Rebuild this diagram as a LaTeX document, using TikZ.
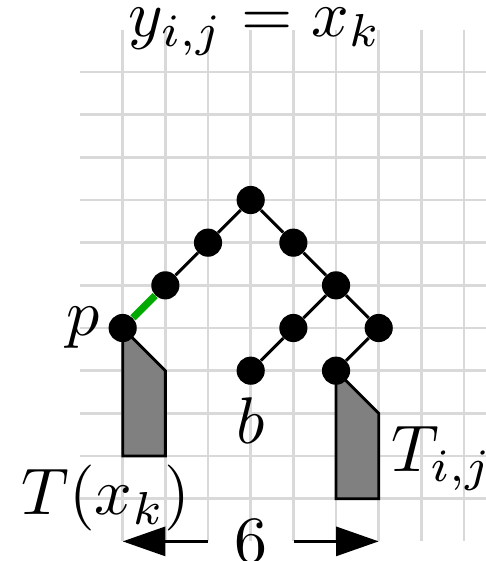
\documentclass[tikz,border=0pt]{standalone}
\usepackage{amsmath}
\usetikzlibrary{arrows.meta,positioning,calc}
\definecolor{GridGray}{RGB}{217,217,217}
\definecolor{PathGreen}{RGB}{0,170,0}
\definecolor{TreeGray}{RGB}{128,128,128}
\newcommand{\bigmath}[1]{\scalebox{4.4}{$#1$}}
\tikzset{
  vertex/.style={circle,fill=black,inner sep=0pt,minimum size=0.66cm},
  treeedge/.style={draw=black,line width=2pt},
  greenedge/.style={draw=PathGreen,line width=4.8pt},
  subtree/.style={draw=black,fill=TreeGray,line width=1.9pt},
  biglabel/.style={inner sep=0pt},
  dimarrow/.style={-{Triangle[length=1cm,width=0.68cm]},line width=2pt},
  gridline/.style={draw=GridGray,line width=1.9pt}
}

\begin{document}
\begin{tikzpicture}[x=1cm,y=1cm]
\useasboundingbox (-5.875,-8.46) rectangle (5.514,4.687);
\clip (-5.875,-8.46) rectangle (5.514,4.687);
\draw[gridline] (-3.99,-7.99) grid (5.99,3.99);

% subtrees below p and q
\draw[subtree] (-3,-3) -- (-2,-4) -- (-2,-6) -- (-3,-6) -- cycle;
\draw[subtree] (2,-4) -- (3,-5) -- (3,-7) -- (2,-7) -- cycle;

\node[vertex] (r) at (0,0) {};
\node[vertex] (l1) at (-1,-1) {};
\node[vertex] (l2) at (-2,-2) {};
\node[vertex] (p) at (-3,-3) {};
\node[vertex] (r1) at (1,-1) {};
\node[vertex] (r2) at (2,-2) {};
\node[vertex] (m3) at (1,-3) {};
\node[vertex] (r3) at (3,-3) {};
\node[vertex] (b) at (0,-4) {};
\node[vertex] (q) at (2,-4) {};

\draw[treeedge](r)--(l1);\draw[treeedge](l1)--(l2);\draw[treeedge](r)--(r1);\draw[treeedge](r1)--(r2);
\draw[treeedge](r2)--(m3);\draw[treeedge](m3)--(b);\draw[treeedge](r2)--(r3);\draw[treeedge](r3)--(q);
\draw[greenedge](l2)--(p);

\node[biglabel,anchor=base] (title) at (0.1,3.84) {\bigmath{y_{i,j} = x_k}};
\node[biglabel,left=0.2cm of p] (plabel) {\bigmath{p}};
\node[biglabel,below=0.3cm of b] (blabel) {\bigmath{b}};
\node[biglabel,anchor=base west] (tij) at (3.3,-6.37) {\bigmath{T_{i,j}}};
\node[biglabel,anchor=base west] (txk) at (-5.38,-7.38) {\bigmath{T(x_k)}};

\node[biglabel,minimum width=2cm] (six) at (0,-8) {\bigmath{6}};
\coordinate (sl) at (-3,-8);
\coordinate (sr) at (3,-8);
\draw[dimarrow](six.west)--(sl);\draw[dimarrow](six.east)--(sr);
\end{tikzpicture}
\end{document}
